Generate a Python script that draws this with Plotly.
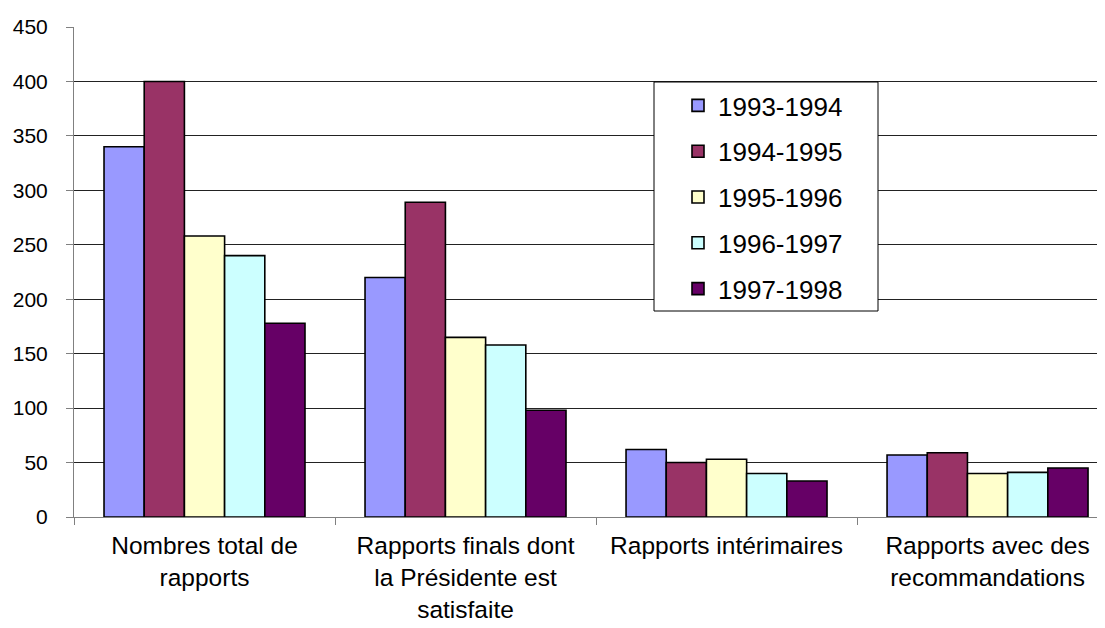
import plotly.graph_objects as go

categories = [
    "Nombres total de<br>rapports",
    "Rapports finals dont<br>la Présidente est<br>satisfaite",
    "Rapports intérimaires",
    "Rapports avec des<br>recommandations",
]
series_names = ["1993-1994", "1994-1995", "1995-1996", "1996-1997", "1997-1998"]
v_1993 = [340, 220, 62, 57]
v_1994 = [400, 289, 50, 59]
v_1995 = [258, 165, 53, 40]
v_1996 = [240, 158, 40, 41]
v_1997 = [178, 98, 33, 45]
values = [v_1993, v_1994, v_1995, v_1996, v_1997]
colors = ["#9999FF", "#993366", "#FFFFCC", "#CCFFFF", "#660066"]
y_ticks = [0, 50, 100, 150, 200, 250, 300, 350, 400, 450]

FONT = "Liberation Sans, Arial, sans-serif"

# page body has an 8px default margin, so the figure is sized to fit the window
W, H = 1097, 620
ML, MT, MB = 66, 19, 111
PW, PH = W - ML, H - MT - MB


def px_x(x):
    return (x - ML) / PW


def px_y(y):
    return 1 - (y - MT) / PH


fig = go.Figure()
for name, vals, col in zip(series_names, values, colors):
    fig.add_trace(go.Bar(
        x=categories, y=vals, name=name, legendgroup=name,
        marker=dict(color=col, line=dict(color="black", width=1.6)),
    ))

# legend frame
fig.add_shape(
    type="rect", xref="paper", yref="paper", layer="above",
    x0=px_x(646), x1=px_x(870), y0=px_y(303), y1=px_y(74),
    fillcolor="white", line=dict(color="black", width=1),
)

fig.update_layout(
    width=W, height=H,
    margin=dict(l=ML, r=0, t=MT, b=MB, pad=0),
    paper_bgcolor="white", plot_bgcolor="white",
    barmode="group", bargap=0.23, bargroupgap=0,
    font=dict(family=FONT, color="black", size=21),
    showlegend=True,
    legend=dict(
        x=px_x(670), y=px_y(74),
        xanchor="left", yanchor="top",
        bgcolor="rgba(0,0,0,0)", borderwidth=0,
        font=dict(size=26, family=FONT),
        traceorder="grouped", tracegroupgap=9,
        itemwidth=30,
    ),
    xaxis=dict(
        type="category",
        range=[-0.5, 3.45],
        automargin=False,
        showline=True, linecolor="#808080", linewidth=1,
        ticks="outside", tickson="boundaries", ticklen=7, tickcolor="#808080",
        ticklabelstandoff=7,
        tickfont=dict(size=24.5),
        showgrid=False, zeroline=False,
    ),
    yaxis=dict(
        range=[0, 450], tickvals=y_ticks,
        automargin=False,
        showline=True, linecolor="#808080", linewidth=1,
        ticks="outside", ticklen=7, tickcolor="#808080",
        ticklabelstandoff=14,
        showgrid=True, gridcolor="#222222", gridwidth=1,
        zeroline=False,
        tickfont=dict(size=21),
    ),
)

fig.write_html("out.html")
